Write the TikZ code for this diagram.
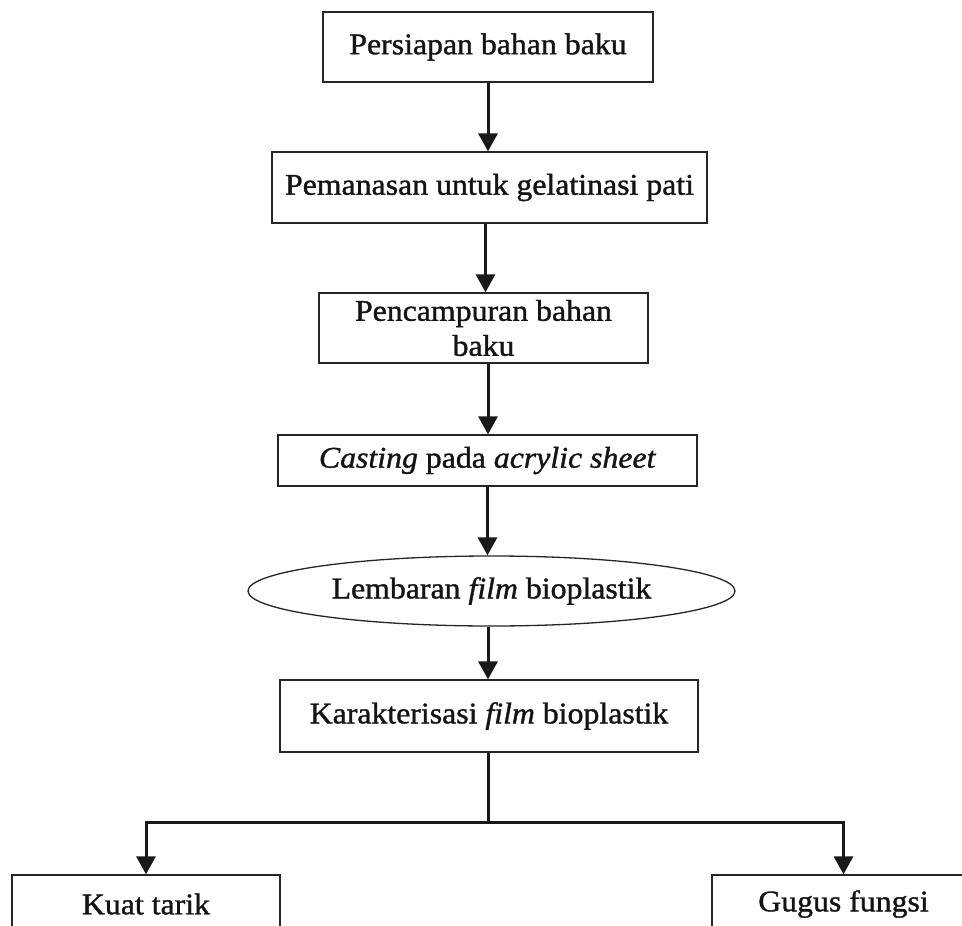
\documentclass[tikz,border=0pt]{standalone}
\usepackage{fontspec}
\setmainfont{Liberation Serif}[FakeStretch=1.06,FakeBold=1.2]
\usetikzlibrary{arrows.meta,shapes.geometric}
\begin{document}
\begin{tikzpicture}[x=1pt,y=-1pt,
  box/.style={draw=black!85, line width=1.3pt, minimum height=70pt, inner sep=0pt,
    align=center, font=\fontsize{30}{35}\selectfont, text=black!92},
  oval/.style={box, ellipse},
  arr/.style={line width=3pt, draw=black!90, -{Triangle[width=19pt,length=18pt]}},
  conn/.style={line width=3pt, draw=black!90}]
\clip (0,0) rectangle (962,926);
\fill[white] (0,0) rectangle (962,926);
\node[box, minimum width=330pt] (b1) at (488,47) {Persiapan bahan baku};
\node[box, minimum width=435pt, minimum height=71pt] (b2) at (489.5,187.5) {Pemanasan untuk gelatinasi pati};
\node[box, minimum width=329pt] (b3) at (483.5,328) {Pencampuran bahan\\baku};
\node[box, minimum width=419pt, minimum height=51pt] (b4) at (487.5,460.5) {\textit{Casting} pada \textit{acrylic sheet}};
\node[oval, minimum width=487pt, minimum height=70pt] (e1) at (491.5,591) {Lembaran \textit{film} bioplastik};
\node[box, minimum width=418pt, minimum height=72pt] (b5) at (489,716) {Karakterisasi \textit{film} bioplastik};
\node[box, minimum width=268pt, minimum height=58pt] (k1) at (146,904) {Kuat tarik};
\node[box, minimum width=263pt, minimum height=58pt] (k2) at (843.5,904) {Gugus fungsi};
\coordinate (j) at (488,822);
\draw[arr] (b1.south) -- (b1.south |- b2.north);
\draw[arr] ([xshift=-4pt]b2.south) -- ([xshift=-4pt]b2.south |- b3.north);
\draw[arr] ([xshift=4.5pt]b3.south) -- ([xshift=4.5pt]b3.south |- b4.north);
\draw[arr] (b4.south) -- (b4.south |- e1.north);
\draw[arr] ([xshift=-3.5pt]e1.south) -- ([xshift=-3.5pt]e1.south |- b5.north);
\draw[conn] ([xshift=-1pt]b5.south) -- (j);
\draw[arr] (j) -| (k1.north);
\draw[arr] (j) -| (k2.north);
\end{tikzpicture}
\end{document}
